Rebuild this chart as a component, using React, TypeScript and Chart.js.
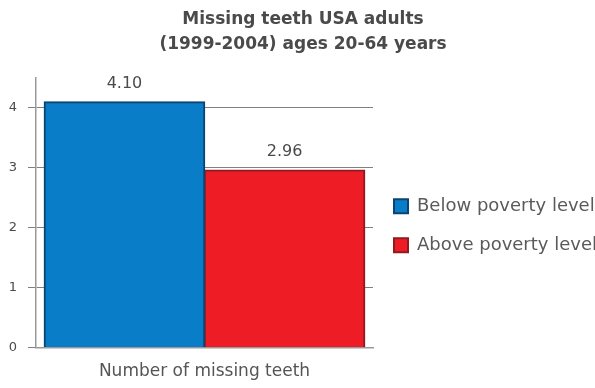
import { useEffect, useRef } from "react";
import { Chart, registerables } from "chart.js";

Chart.register(...registerables);

const categories = ["Number of missing teeth"];
const seriesNames = ["Below poverty level", "Above poverty level"];
const belowPoverty = [4.1];
const abovePoverty = [2.96];
const titleLines = ["Missing teeth USA adults", "(1999-2004) ages 20-64 years"];
const yMin = 0;
const yMax = 4.5;
const yStep = 1;

const FONT = "'DejaVu Sans', Verdana, sans-serif";

const titlePlugin = {
  id: "centeredTitle",
  afterDraw(chart: any) {
    const ctx = chart.ctx;
    ctx.save();
    ctx.font = `bold 17px ${FONT}`;
    ctx.fillStyle = "#4a4a4a";
    ctx.textAlign = "center";
    ctx.textBaseline = "middle";
    titleLines.forEach((t, i) => ctx.fillText(t, 303, 20 + i * 25));
    ctx.restore();
  },
};

// let the legend run to the canvas edge (text is cut by the page edge, as in the reference)
const legendExtentPlugin = {
  id: "legendExtent",
  afterLayout(chart: any) {
    const lg = chart.legend;
    if (!lg) return;
    lg.right = chart.width + 40;
    lg.width = lg.right - lg.left;
  },
};

const valueLabelPlugin = {
  id: "valueLabels",
  afterDatasetsDraw(chart: any) {
    const ctx = chart.ctx;
    ctx.save();
    ctx.font = `16px ${FONT}`;
    ctx.fillStyle = "#4a4a4a";
    ctx.textAlign = "center";
    ctx.textBaseline = "middle";
    chart.data.datasets.forEach((ds: any, i: number) => {
      const meta = chart.getDatasetMeta(i);
      meta.data.forEach((bar: any, j: number) => {
        const v = ds.data[j] as number;
        ctx.fillText(v.toFixed(2), bar.x, bar.y - 18);
      });
    });
    ctx.restore();
  },
};

export default function App() {
  const ref = useRef<HTMLCanvasElement | null>(null);

  useEffect(() => {
    if (!ref.current) return;
    const chart = new Chart(ref.current, {
      type: "bar",
      data: {
        labels: categories,
        datasets: [
          {
            label: seriesNames[0],
            data: belowPoverty,
            backgroundColor: "#0a7dc8",
            borderColor: "#0b4470",
            borderWidth: 2,
          },
          {
            label: seriesNames[1],
            data: abovePoverty,
            backgroundColor: "#ee1c25",
            borderColor: "#8e1a22",
            borderWidth: 2,
          },
        ],
      },
      options: {
        responsive: true,
        maintainAspectRatio: false,
        animation: false,
        layout: { padding: { left: 9, top: 78, right: 162, bottom: -8 } },
        datasets: { bar: { categoryPercentage: 0.95, barPercentage: 1, inflateAmount: 0.8 } },
        plugins: {
          title: { display: false },
          tooltip: { enabled: false },
          legend: {
            position: "right",
            fullSize: false,
            align: "center",
            maxWidth: 60,
            title: {
              display: true,
              text: "",
              font: { size: 10, lineHeight: "26px" },
              padding: 0,
            },
            labels: {
              boxWidth: 14,
              boxHeight: 14,
              padding: 21,
              color: "#5a5a5a",
              font: { family: FONT, size: 18 },
            },
          },
        },
        scales: {
          x: {
            grid: { drawOnChartArea: false, drawTicks: false },
            border: { display: true, color: "#999999", width: 1.5 },
            ticks: {
              padding: 14,
              color: "#555555",
              font: { family: FONT, size: 17 },
            },
          },
          y: {
            min: yMin,
            max: yMax,
            ticks: {
              stepSize: yStep,
              includeBounds: false,
              padding: 11,
              color: "#4a4a4a",
              font: { family: FONT, size: 13 },
            },
            grid: { color: "#808080", tickLength: 8, lineWidth: 1 },
            border: { color: "#999999", width: 1.5 },
            afterFit: (s: any) => {
              s.width = 27;
            },
          },
        },
      },
      plugins: [legendExtentPlugin, titlePlugin, valueLabelPlugin],
    } as any);
    return () => chart.destroy();
  }, []);

  return (
    <div style={{ position: "fixed", left: 0, top: 0, width: 595, height: 388, overflow: "hidden", background: "#fff" }}>
      <canvas ref={ref} />
    </div>
  );
}
